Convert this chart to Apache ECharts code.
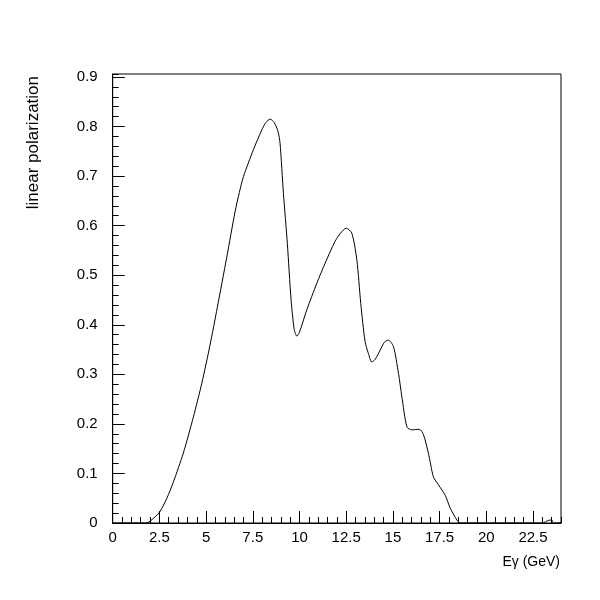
<!DOCTYPE html>
<html>
<head>
<meta charset="utf-8">
<script src="https://cdn.jsdelivr.net/npm/echarts@6/dist/echarts.min.js"></script>
<style>
html,body{margin:0;padding:0;background:#fff;}
#c{width:600px;height:600px;}
</style>
</head>
<body>
<div id="c"></div>
<script>
var energy = [0, 0.5, 1.0, 1.5, 1.8, 2.2, 2.53, 2.9, 3.25, 3.78, 4.32, 4.77, 5.21, 5.6, 6.11, 6.55, 6.78, 7.0, 7.53, 7.98, 8.2, 8.43, 8.65, 8.85, 8.96, 9.14, 9.35, 9.55, 9.72, 9.86, 10.0, 10.39, 10.93, 11.37, 11.9, 12.2, 12.5, 12.8, 13.07, 13.28, 13.51, 13.69, 13.87, 14.05, 14.32, 14.55, 14.76, 15.03, 15.3, 15.48, 15.75, 16.0, 16.42, 16.64, 16.9, 17.17, 17.44, 17.8, 18.07, 18.43, 18.6, 19, 20, 21, 22, 23.0, 23.3, 23.5, 23.6, 24];
var polarization = [0, 0, 0, 0, 0, 0.01, 0.023, 0.05, 0.083, 0.141, 0.214, 0.282, 0.359, 0.435, 0.537, 0.628, 0.667, 0.699, 0.753, 0.793, 0.808, 0.815, 0.808, 0.79, 0.766, 0.665, 0.564, 0.45, 0.39, 0.377, 0.385, 0.43, 0.484, 0.524, 0.568, 0.585, 0.595, 0.585, 0.531, 0.443, 0.366, 0.342, 0.325, 0.33, 0.349, 0.365, 0.369, 0.356, 0.302, 0.255, 0.194, 0.188, 0.189, 0.178, 0.141, 0.093, 0.077, 0.056, 0.030, 0.006, 0, 0, 0, 0, 0, 0, 0.005, 0.006, 0, 0];
var xTickLabels = ['0', '2.5', '5', '7.5', '10', '12.5', '15', '17.5', '20', '22.5'];
var yTickLabels = ['0', '0.1', '0.2', '0.3', '0.4', '0.5', '0.6', '0.7', '0.8', '0.9'];
var xTitle = 'E\u03b3 (GeV)';
var yTitle = 'linear polarization';

var pts = energy.map(function (e, i) { return [e, polarization[i]]; });
var font = 'Liberation Sans, Arial, sans-serif';

function fmtX(v) {
  for (var i = 0; i < xTickLabels.length; i++) {
    if (Math.abs(parseFloat(xTickLabels[i]) - v) < 1e-6) return xTickLabels[i];
  }
  return '';
}
function fmtY(v) {
  for (var i = 0; i < yTickLabels.length; i++) {
    if (Math.abs(parseFloat(yTickLabels[i]) - v) < 1e-6) return yTickLabels[i];
  }
  return '';
}

var chart = echarts.init(document.getElementById('c'), null, {renderer: 'canvas'});
chart.setOption({
  backgroundColor: '#fff',
  animation: false,
  grid: {left: 112.7, right: 39, top: 74, bottom: 77, show: true, borderColor: '#000', borderWidth: 1, backgroundColor: 'transparent'},
  xAxis: [{
    type: 'value', min: 0, max: 24, interval: 2.5,
    axisLine: {show: true, lineStyle: {color: '#000', width: 1}},
    axisTick: {show: true, inside: true, length: 12, lineStyle: {color: '#000', width: 1}},
    axisLabel: {show: true, margin: 7, color: '#000', fontSize: 15, fontFamily: font, formatter: fmtX, showMaxLabel: false},
    splitLine: {show: false}
  }, {
    type: 'value', min: 0, max: 24, interval: 0.5, position: 'bottom',
    axisLine: {show: false},
    axisTick: {show: true, inside: true, length: 6, lineStyle: {color: '#000', width: 1}},
    axisLabel: {show: false},
    splitLine: {show: false}
  }],
  yAxis: [{
    type: 'value', min: 0, max: 0.906, interval: 0.1,
    axisLine: {show: true, lineStyle: {color: '#000', width: 1}},
    axisTick: {show: true, inside: true, length: 12, lineStyle: {color: '#000', width: 1}},
    axisLabel: {show: true, margin: 15, color: '#000', fontSize: 15, fontFamily: font, formatter: fmtY, showMaxLabel: false},
    splitLine: {show: false}
  }, {
    type: 'value', min: 0, max: 0.906, interval: 0.02, position: 'left',
    axisLine: {show: false},
    axisTick: {show: true, inside: true, length: 6, lineStyle: {color: '#000', width: 1}},
    axisLabel: {show: false},
    splitLine: {show: false}
  }],
  graphic: [{
    type: 'text', x: 33, y: 76, rotation: Math.PI / 2,
    style: {text: yTitle, fill: '#000', font: '17px ' + font, textAlign: 'right', textVerticalAlign: 'middle'}
  }, {
    type: 'text', x: 560, y: 562,
    style: {text: xTitle, fill: '#000', font: '14px ' + font, textAlign: 'right', textVerticalAlign: 'middle'}
  }],
  series: [{
    type: 'line', xAxisIndex: 0, yAxisIndex: 0, data: pts, showSymbol: false, smooth: 0.25,
    lineStyle: {color: '#000', width: 1}
  }]
});
</script>
</body>
</html>
